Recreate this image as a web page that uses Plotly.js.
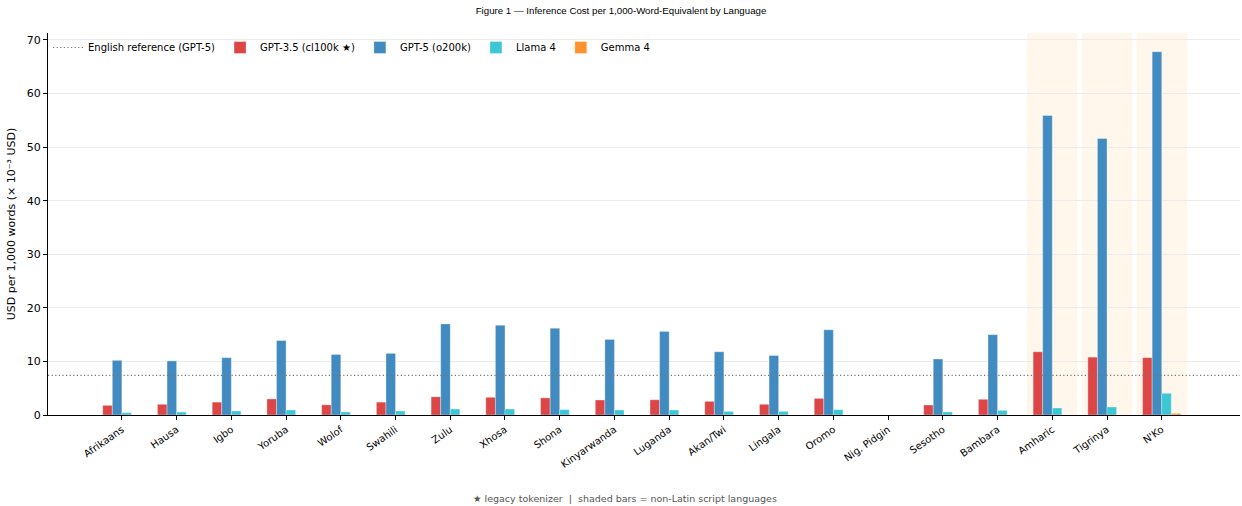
<!DOCTYPE html>
<html>
<head>
<meta charset="utf-8">
<script src="https://cdn.plot.ly/plotly-3.0.1.min.js"></script>
<style>
  html, body { margin: 0; padding: 0; background: #fff; }
  #chart { width: 1242px; height: 506px; }
</style>
</head>
<body>
<div id="chart"></div>
<script>
// ---- data ----
const languages = ["Afrikaans", "Hausa", "Igbo", "Yoruba", "Wolof", "Swahili", "Zulu", "Xhosa", "Shona",
  "Kinyarwanda", "Luganda", "Akan/Twi", "Lingala", "Oromo", "Nig. Pidgin", "Sesotho", "Bambara",
  "Amharic", "Tigrinya", "N'Ko"];
const gpt35 = [1.8, 2.0, 2.4, 3.0, 1.9, 2.4, 3.4, 3.3, 3.2, 2.8, 2.85, 2.55, 2.0, 3.1, null, 1.87, 2.93, 11.8, 10.8, 10.7];
const gpt5  = [10.2, 10.1, 10.7, 13.9, 11.3, 11.5, 17.0, 16.75, 16.2, 14.1, 15.6, 11.8, 11.1, 15.9, null, 10.45, 15.0, 55.9, 51.6, 67.8];
const llama4 = [0.43, 0.56, 0.75, 0.93, 0.56, 0.75, 1.12, 1.12, 1.0, 0.93, 0.93, 0.68, 0.68, 1.0, null, 0.56, 0.87, 1.31, 1.49, 4.05];
const gemma4 = [null, null, null, null, null, null, null, null, null, null, null, null, null, null, null, null, null, null, null, 0.3];
const englishRef = 7.4;
const nonLatin = ["Amharic", "Tigrinya", "N'Ko"];
const seriesNames = ["GPT-3.5 (cl100k ★)", "GPT-5 (o200k)", "Llama 4", "Gemma 4"];
const yTicks = [0, 10, 20, 30, 40, 50, 60, 70];

// ---- build ----
const idx = languages.map((_, i) => i);
const colors = ["#dc4646", "#418bc1", "#3cc7d4", "#ff922e"];
const seriesVals = [gpt35, gpt5, llama4, gemma4];
const refLine = { color: "#777", width: 1.2, dash: "1.2px,2.4px" };

const traces = [{
  type: "scatter", mode: "lines", x: [null], y: [null],
  name: "English reference (GPT-5)",
  line: refLine,
  hoverinfo: "skip"
}];
seriesVals.forEach((vals, k) => {
  traces.push({
    type: "bar", x: idx, y: vals, name: seriesNames[k],
    marker: { color: colors[k], line: { color: "rgba(255,255,255,0.55)", width: 0.6 } }
  });
});

const shapes = [];
nonLatin.forEach(lang => {
  const i = languages.indexOf(lang);
  shapes.push({
    type: "rect", xref: "x", yref: "paper", x0: i - 0.46, x1: i + 0.46, y0: 0, y1: 1,
    fillcolor: "rgba(255,160,40,0.09)", line: { width: 0 }, layer: "below"
  });
});
shapes.push({
  type: "line", xref: "paper", yref: "y", x0: 0, x1: 1, y0: englishRef, y1: englishRef,
  line: refLine, layer: "above"
});

const layout = {
  width: 1242, height: 506,
  margin: { l: 48, r: 2, t: 33, b: 91 },
  paper_bgcolor: "#fff", plot_bgcolor: "#fff",
  font: { family: "DejaVu Sans, sans-serif", size: 10, color: "#000" },
  title: {
    text: "Figure 1 — Inference Cost per 1,000-Word-Equivalent by Language",
    font: { family: "Liberation Sans, Arial, sans-serif", size: 9.7, color: "#000" },
    x: 0.5, xanchor: "center", y: 0.985, yanchor: "top"
  },
  barmode: "group", bargap: 0.3, bargroupgap: 0,
  showlegend: true,
  legend: {
    orientation: "h", x: 0.0, y: 1.0, xanchor: "left", yanchor: "top",
    bgcolor: "rgba(255,255,255,0)", font: { size: 10 }, traceorder: "normal",
    itemwidth: 30
  },
  xaxis: {
    range: [-1.35, 20.43], tickmode: "array", tickvals: idx, ticktext: languages,
    tickangle: -35, ticks: "outside", ticklen: 4, tickcolor: "#000",
    showline: true, linecolor: "#000", linewidth: 1, showgrid: false, zeroline: false,
    tickfont: { size: 10 }
  },
  yaxis: {
    range: [0, 71.3], tickmode: "array", tickvals: yTicks,
    ticks: "outside", ticklen: 4, tickcolor: "#000",
    showline: true, linecolor: "#000", linewidth: 1,
    showgrid: true, gridcolor: "#ececec", gridwidth: 1, zeroline: false,
    tickfont: { size: 11 },
    title: { text: "USD per 1,000 words (× 10⁻³ USD)", font: { size: 11 }, standoff: 8 }
  },
  shapes: shapes,
  annotations: [{
    xref: "paper", yref: "paper", x: 0.484, y: -0.219, xanchor: "center", yanchor: "middle",
    text: "★ legacy tokenizer  |  shaded bars = non-Latin script languages",
    showarrow: false, font: { size: 9.5, color: "#555" }
  }]
};

Plotly.newPlot("chart", traces, layout, { displayModeBar: false, staticPlot: true });
</script>
</body>
</html>
